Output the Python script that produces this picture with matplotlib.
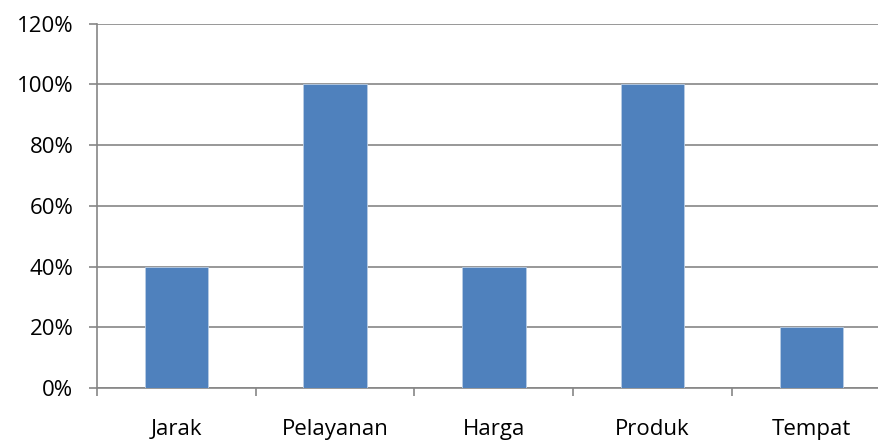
import numpy as np
from matplotlib import pyplot as plt
from matplotlib.ticker import FuncFormatter

categories = ["Jarak", "Pelayanan", "Harga", "Produk", "Tempat"]
values = [0.40, 1.00, 0.40, 1.00, 0.20]

plt.rcParams['font.family'] = ['Open Sans', 'DejaVu Sans']

fig = plt.figure(figsize=(8.79, 4.44), dpi=100)
# plot area runs past the right edge, as in the cropped original
ax = fig.add_axes([97 / 879, 56 / 444, 793.75 / 879, 364.3 / 444])

x = np.arange(len(categories))
ax.bar(x, values, width=0.4, color='#4F81BD', edgecolor='#B9CDE5', linewidth=0.6, zorder=3)

ax.set_xlim(-0.5, len(categories) - 0.5)
ax.set_ylim(0, 1.2)
ax.set_yticks(np.arange(0, 1.21, 0.2))
ax.yaxis.set_major_formatter(FuncFormatter(lambda v, p: f"{v * 100:.0f}%"))
ax.grid(axis='y', color='#868686', linewidth=1.2, zorder=0)

# category labels between boundary ticks
ax.set_xticks(np.arange(-0.5, len(categories), 1.0))
ax.set_xticklabels([])
ax.set_xticks(x, minor=True)
ax.set_xticklabels(categories, minor=True)
ax.tick_params(axis='x', which='minor', length=0, pad=22, labelsize=16)
ax.tick_params(axis='x', which='major', length=6, width=1.2, color='#868686')
ax.tick_params(axis='y', length=6, width=1.2, color='#868686', pad=11, labelsize=16)

for s in ['top', 'right']:
    ax.spines[s].set_visible(False)
for s in ['left', 'bottom']:
    ax.spines[s].set_color('#868686')
    ax.spines[s].set_linewidth(1.2)

plt.savefig("out.png", dpi=100)
